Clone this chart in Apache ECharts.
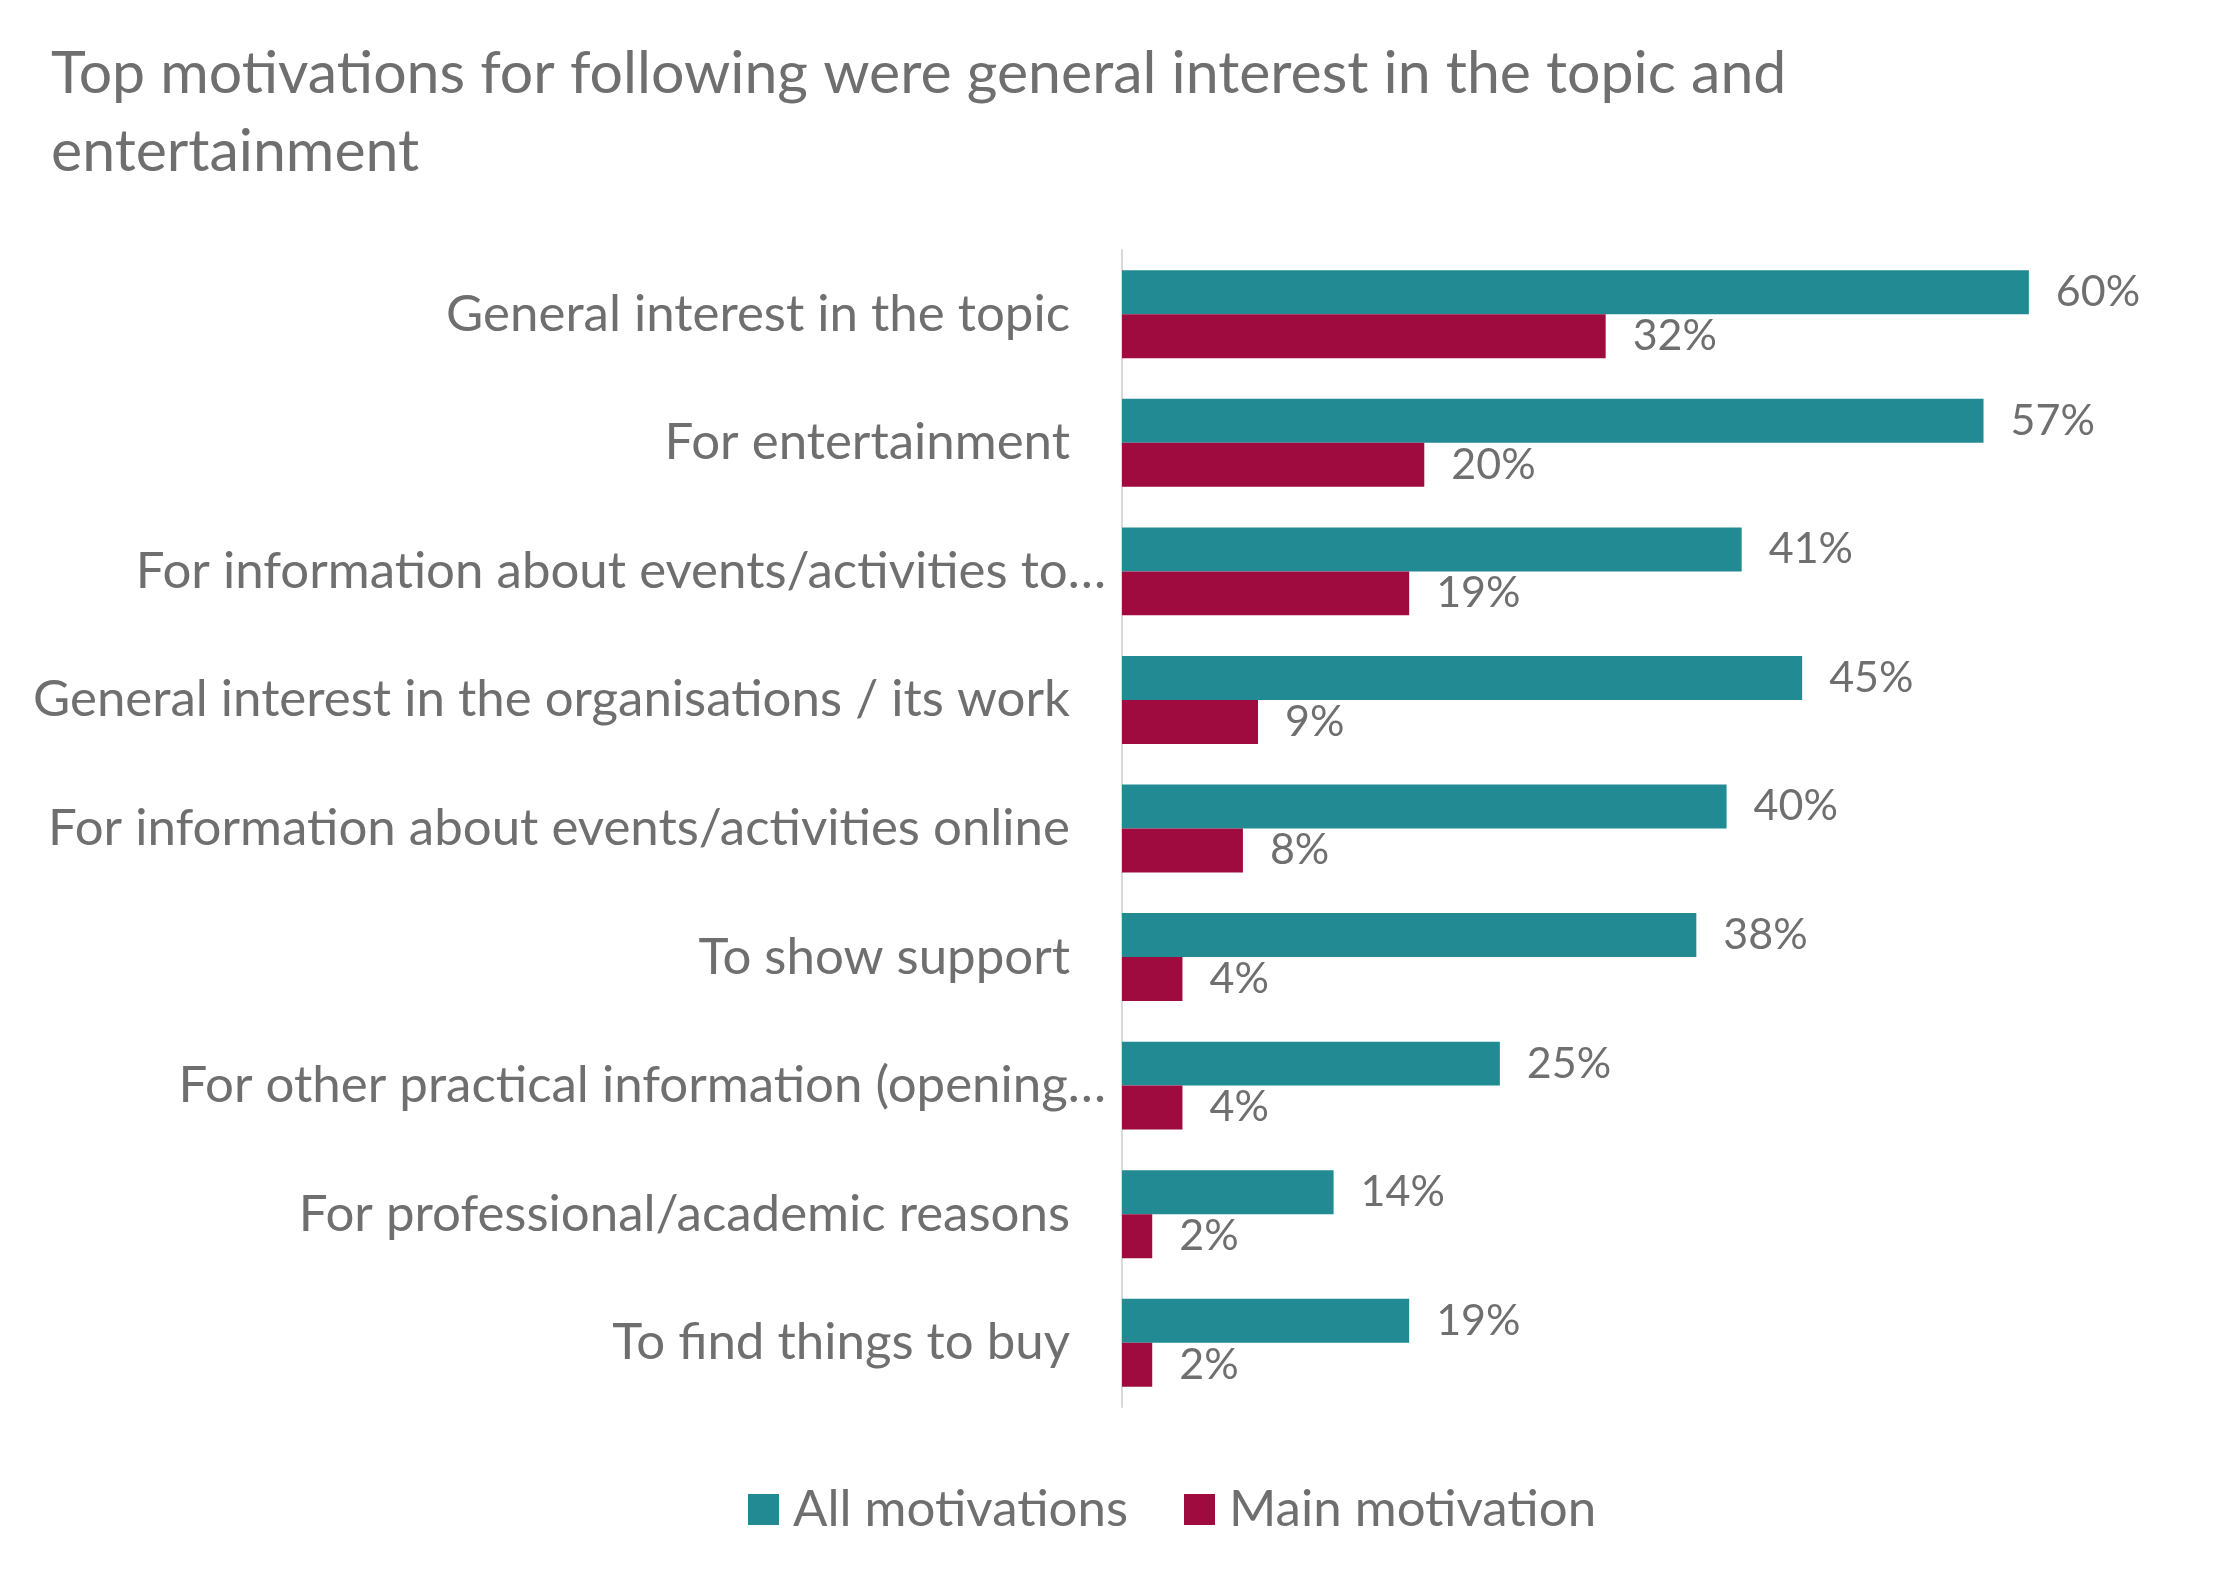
<!DOCTYPE html>
<html>
<head>
<meta charset="utf-8">
<script src="https://cdn.jsdelivr.net/npm/echarts@6/dist/echarts.min.js"></script>
<style>
html,body{margin:0;padding:0;background:#fff;}
#chart{width:2236px;height:1580px;}
</style>
</head>
<body>
<div id="chart"></div>
<script>
const titleText = "Top motivations for following were general interest in the topic and\nentertainment";
const categories = [
  "General interest in the topic",
  "For entertainment",
  "For information about events/activities to\u2026",
  "General interest in the organisations / its work",
  "For information about events/activities online",
  "To show support",
  "For other practical information (opening\u2026",
  "For professional/academic reasons",
  "To find things to buy"
];
const allMotivations = [60, 57, 41, 45, 40, 38, 25, 14, 19];
const mainMotivation = [32, 20, 19, 9, 8, 4, 4, 2, 2];
const seriesNames = ["All motivations", "Main motivation"];

const FONT = "Lato";
const GREY = "#6f6f6f";
const chart = echarts.init(document.getElementById('chart'));
chart.setOption({
  backgroundColor: '#fff',
  animation: false,
  title: {
    text: titleText,
    left: 46,
    top: 30,
    textStyle: {fontFamily: FONT, fontSize: 59, fontWeight: 'normal', color: GREY, lineHeight: 78}
  },
  legend: {
    data: seriesNames,
    bottom: 40,
    left: 743,
    itemWidth: 31,
    itemHeight: 31,
    itemGap: 56,
    icon: 'rect',
    textStyle: {fontFamily: FONT, fontSize: 51, color: GREY, padding: [0, 0, 0, 9]}
  },
  grid: {left: 1122, right: 56, top: 250, bottom: 173, containLabel: false},
  xAxis: {
    type: 'value', min: 0, max: 70,
    show: false,
    splitLine: {show: false}
  },
  yAxis: {
    type: 'category',
    data: categories,
    inverse: true,
    axisTick: {show: false},
    axisLine: {show: true, lineStyle: {color: '#d9d9d9', width: 2}},
    axisLabel: {
      margin: 16,
      formatter: function (v) { return v.endsWith('\u2026') ? '{b|' + v + '}' : '{a|' + v + '}'; },
      rich: {
        a: {fontFamily: FONT, fontSize: 51, color: GREY, padding: [0, 36, 0, 0]},
        b: {fontFamily: FONT, fontSize: 51, color: GREY}
      }
    }
  },
  series: [
    {
      name: seriesNames[0], type: 'bar', data: allMotivations,
      itemStyle: {color: '#218a93'},
      barGap: '0%', barCategoryGap: '31.6%',
      label: {show: true, position: 'right', distance: 27, formatter: '{c}%', fontFamily: FONT, fontSize: 43, color: GREY}
    },
    {
      name: seriesNames[1], type: 'bar', data: mainMotivation,
      itemStyle: {color: '#a00b3f'},
      barGap: '0%', barCategoryGap: '31.6%',
      label: {show: true, position: 'right', distance: 27, formatter: '{c}%', fontFamily: FONT, fontSize: 43, color: GREY}
    }
  ]
});
</script>
</body>
</html>
